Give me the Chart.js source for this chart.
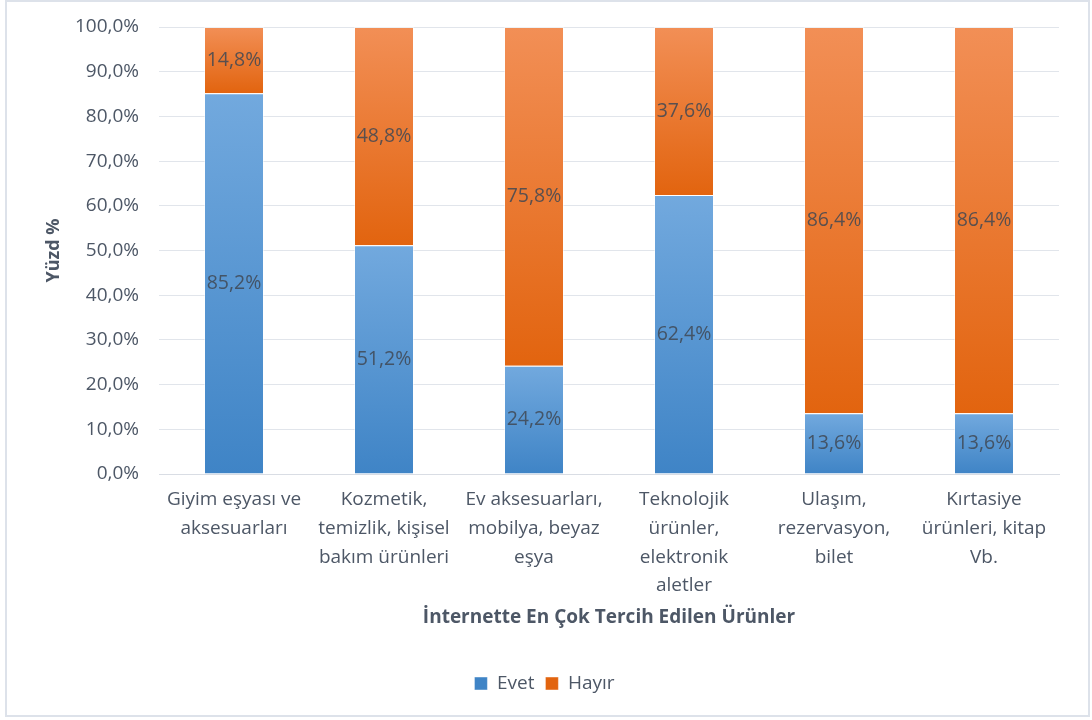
<!DOCTYPE html>
<html>
<head>
<meta charset="utf-8">
<script src="https://cdn.jsdelivr.net/npm/chart.js@4/dist/chart.umd.min.js"></script>
<style>
  body{ margin:0; background:#fff; }
  #frame{ position:absolute; left:5px; top:0px; width:1081px; height:713px; border:2px solid #dde2ea; box-sizing:content-box; }
  #wrap{ position:absolute; left:0; top:0; width:1092px; height:720px; }
</style>
</head>
<body>
<div id="frame"></div>
<div id="wrap"><canvas id="urunler" width="1092" height="720"></canvas></div>
<script>
var categories = [
    ['Giyim eşyası ve', 'aksesuarları'],
    ['Kozmetik,', 'temizlik, kişisel', 'bakım ürünleri'],
    ['Ev aksesuarları,', 'mobilya, beyaz', 'eşya'],
    ['Teknolojik', 'ürünler,', 'elektronik', 'aletler'],
    ['Ulaşım,', 'rezervasyon,', 'bilet'],
    ['Kırtasiye', 'ürünleri, kitap', 'Vb.']
];
var evet  = [85.2, 51.2, 24.2, 62.4, 13.6, 13.6];
var hayir = [14.8, 48.8, 75.8, 37.6, 86.4, 86.4];
var yTicks = [0, 10, 20, 30, 40, 50, 60, 70, 80, 90, 100];

var FONT = '"Open Sans", sans-serif';
var TEXT = '#4d5766';

function fmt( v ){
    return v.toFixed(1).replace('.', ',') + '%';
}

// gradient per segment, light on top, darker at bottom
function segmentFill( top, bottom, solid ){
    return function( c ){
        if( c.type !== 'data' ) return solid;
        var chart = c.chart, y = chart.scales.y;
        if( !y ) return solid;
        var start = c.datasetIndex === 0 ? 0 : evet[c.dataIndex];
        var val = c.datasetIndex === 0 ? evet[c.dataIndex] : hayir[c.dataIndex];
        var y0 = y.getPixelForValue( start + val ), y1 = y.getPixelForValue( start );
        if( !isFinite(y0) || !isFinite(y1) || y0 === y1 ) return solid;
        var g = chart.ctx.createLinearGradient( 0, y0, 0, y1 );
        g.addColorStop( 0, top );
        g.addColorStop( 1, bottom );
        return g;
    };
}

var valueLabels = {
    id: 'valueLabels',
    afterDatasetsDraw: function( chart ){
        var ctx = chart.ctx;
        ctx.save();
        ctx.font = '19.5px ' + FONT;
        ctx.fillStyle = 'rgba(64,72,84,0.85)';
        ctx.textAlign = 'center';
        ctx.textBaseline = 'middle';
        chart.data.datasets.forEach( function( ds, di ){
            chart.getDatasetMeta( di ).data.forEach( function( el, i ){
                ctx.fillText( fmt( ds.data[i] ), el.x, ( el.y + el.base ) / 2 );
            });
        });
        ctx.restore();
    }
};

var ctx = document.getElementById( 'urunler' ).getContext( '2d' );
var urunlerChart = new Chart( ctx, {
    type: 'bar',
    data: {
        labels: categories,
        datasets: [{
            label: 'Evet',
            data: evet,
            backgroundColor: segmentFill( '#72a9de', '#3f84c6', '#5b9bd5' ),
            borderColor: 'rgba(255,255,255,0.45)',
            borderWidth: 1,
            categoryPercentage: 1,
            barPercentage: 0.4
        }, {
            label: 'Hayır',
            data: hayir,
            backgroundColor: segmentFill( '#f28f56', '#e2640f', '#ed7d31' ),
            borderColor: 'rgba(255,255,255,0.45)',
            borderWidth: 1,
            categoryPercentage: 1,
            barPercentage: 0.4
        }]
    },
    options: {
        responsive: false,
        animation: false,
        layout: { padding: { left: 30, right: 33, top: 27, bottom: 17 } },
        plugins: {
            legend: {
                position: 'bottom',
                labels: {
                    color: TEXT,
                    font: { family: FONT, size: 19 },
                    boxWidth: 13,
                    boxHeight: 13,
                    padding: 11
                }
            },
            tooltip: { enabled: false }
        },
        scales: {
            x: {
                stacked: true,
                grid: { display: false },
                border: { color: '#d9dde4', width: 1 },
                ticks: {
                    color: TEXT,
                    font: { family: FONT, size: 19, lineHeight: 1.52 },
                    maxRotation: 0,
                    autoSkip: false,
                    padding: 3
                },
                title: {
                    display: true,
                    text: 'İnternette En Çok Tercih Edilen Ürünler',
                    color: TEXT,
                    font: { family: FONT, size: 19, weight: 'bold' },
                    padding: { top: 4, bottom: 34 }
                },
                afterFit: function( s ){ s.height = 189; }
            },
            y: {
                stacked: true,
                min: 0,
                max: 100,
                afterBuildTicks: function( s ){
                    s.ticks = yTicks.map( function( v ){ return { value: v }; } );
                },
                grid: { color: '#e1e5eb', drawTicks: false },
                border: { display: false },
                ticks: {
                    color: TEXT,
                    font: { family: FONT, size: 19 },
                    padding: 20,
                    callback: function( v ){ return fmt( v ); }
                },
                title: {
                    display: true,
                    text: 'Yüzd %',
                    color: TEXT,
                    font: { family: FONT, size: 18, weight: 'bold' },
                    padding: { top: 13, bottom: 0 }
                },
                afterFit: function( s ){
                    s.width = 129;
                    s.paddingTop = 0;
                    s.paddingBottom = 0;
                }
            }
        }
    },
    plugins: [ valueLabels ]
});
</script>
</body>
</html>
